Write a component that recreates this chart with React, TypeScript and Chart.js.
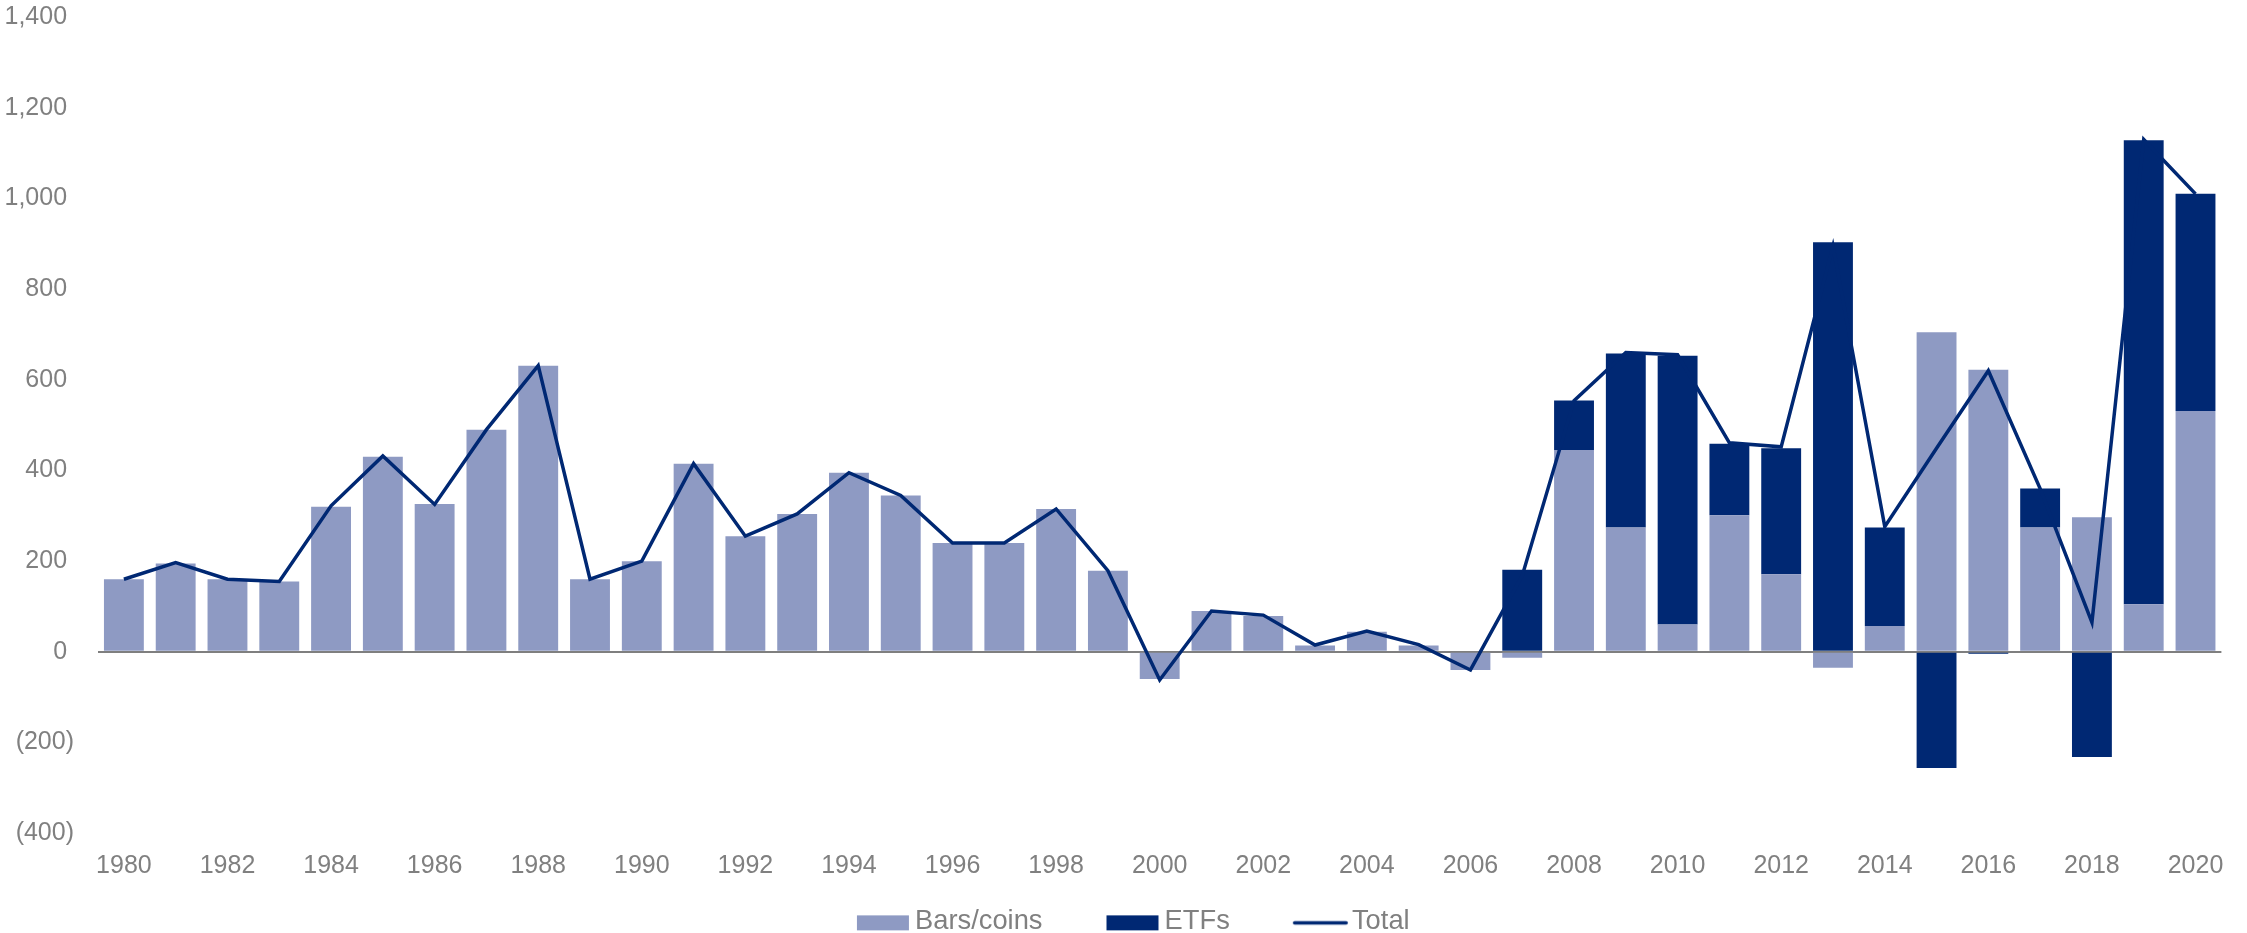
import React, { useEffect, useRef } from 'react';
import { Chart, registerables } from 'chart.js';

Chart.register(...registerables);

const YEARS: string[] = [
  '1980', '1981', '1982', '1983', '1984', '1985', '1986', '1987', '1988', '1989',
  '1990', '1991', '1992', '1993', '1994', '1995', '1996', '1997', '1998', '1999',
  '2000', '2001', '2002', '2003', '2004', '2005', '2006', '2007', '2008', '2009',
  '2010', '2011', '2012', '2013', '2014', '2015', '2016', '2017', '2018', '2019', '2020',
];

const BARS_COINS: number[] = [
  160, 195, 160, 155, 320, 430, 326, 490, 631, 160,
  200, 415, 255, 304, 395, 345, 240, 240, 315, 179,
  -60, 90, 79, 14, 44, 14, -40, -13, 445, 274,
  60, 301, 171, -35, 57, 705, 622, 274, 297, 105, 531,
];

const ETFS: (number | null)[] = [
  null, null, null, null, null, null, null, null, null, null,
  null, null, null, null, null, null, null, null, null, null,
  null, null, null, null, null, null, null, 181, 109, 384,
  593, 158, 278, 903, 217, -256, -4, 86, -232, 1023, 479,
];

const TOTAL: number[] = [
  160, 197, 160, 155, 322, 432, 325, 490, 631, 160,
  200, 415, 255, 304, 395, 345, 240, 240, 315, 179,
  -62, 90, 81, 15, 46, 16, -40, 168, 554, 660,
  655, 461, 452, 895, 276, 449, 620, 360, 65, 1130, 1010,
];

const Y_MIN = -400;
const Y_MAX = 1400;
const Y_STEP = 200;

const LIGHT = '#8E9AC3';
const NAVY = '#002873';
const GRAY = '#808080';
const FONT = "'Liberation Sans', Arial, sans-serif";

function fmtTick(v: number): string {
  const s = Math.abs(v).toLocaleString('en-US');
  return v < 0 ? `(${s})` : `${s} `;
}

// legend swatch images (transparent canvas with the swatch placed near the label)
function makeSwatch(kind: 'rect' | 'line', color: string): HTMLCanvasElement {
  const c = document.createElement('canvas');
  c.width = 180;
  c.height = 20;
  const ctx = c.getContext('2d')!;
  ctx.clearRect(0, 0, c.width, c.height);
  if (kind === 'rect') {
    ctx.fillStyle = color;
    ctx.fillRect(85, 4, 52, 15);
  } else {
    ctx.strokeStyle = color;
    ctx.lineWidth = 3.5;
    ctx.lineCap = 'round';
    ctx.beginPath();
    ctx.moveTo(85.75, 11.5);
    ctx.lineTo(137.25, 11.5);
    ctx.stroke();
  }
  return c;
}

export default function App() {
  const ref = useRef<HTMLCanvasElement | null>(null);

  useEffect(() => {
    if (!ref.current) return;
    Chart.defaults.font.family = FONT;
    const swLight = makeSwatch('rect', LIGHT);
    const swNavy = makeSwatch('rect', NAVY);
    const swLine = makeSwatch('line', NAVY);
    const chart = new Chart(ref.current, {
      type: 'bar',
      data: {
        labels: YEARS,
        datasets: [
          {
            type: 'line',
            label: 'Total',
            data: TOTAL,
            borderColor: NAVY,
            backgroundColor: NAVY,
            borderWidth: 3.5,
            pointRadius: 0,
            fill: false,
            tension: 0,
            order: 0,
            stack: 'total',
          } as any,
          {
            type: 'bar',
            label: 'Bars/coins',
            data: BARS_COINS,
            backgroundColor: LIGHT,
            borderWidth: 0,
            barPercentage: 0.77,
            categoryPercentage: 1,
            order: 1,
            stack: 'a',
          },
          {
            type: 'bar',
            label: 'ETFs',
            data: ETFS,
            backgroundColor: NAVY,
            borderWidth: 0,
            barPercentage: 0.77,
            categoryPercentage: 1,
            order: 2,
            stack: 'a',
          },
        ],
      },
      options: {
        animation: false,
        responsive: false,
        devicePixelRatio: 1,
        layout: { padding: { left: -8, right: 7, top: 0, bottom: -12 } },
        plugins: {
          tooltip: { enabled: false },
          legend: {
            position: 'bottom',
            labels: {
              usePointStyle: true,
              pointStyleWidth: 79,
              boxHeight: 15,
              padding: 29.5,
              color: GRAY,
              font: { size: 27.3, family: FONT },
              generateLabels: () => [
                { text: 'Bars/coins', fillStyle: LIGHT, strokeStyle: LIGHT, lineWidth: 0, pointStyle: swLight, datasetIndex: 1, hidden: false, fontColor: GRAY } as any,
                { text: 'ETFs', fillStyle: NAVY, strokeStyle: NAVY, lineWidth: 0, pointStyle: swNavy, datasetIndex: 2, hidden: false, fontColor: GRAY } as any,
                { text: 'Total', fillStyle: NAVY, strokeStyle: NAVY, lineWidth: 0, pointStyle: swLine, datasetIndex: 0, hidden: false, fontColor: GRAY } as any,
              ],
            },
          },
        },
        scales: {
          x: {
            stacked: true,
            grid: { display: false, drawTicks: false },
            border: { display: false },
            ticks: {
              autoSkip: false,
              maxRotation: 0,
              minRotation: 0,
              padding: 23.6,
              color: GRAY,
              font: { size: 25, family: FONT, lineHeight: 0.75 },
              callback: (_v: any, i: number) => (i % 2 === 0 ? YEARS[i] : ''),
            },
            afterFit: (s: any) => {
              s.height = 45;
            },
          },
          y: {
            stacked: true,
            min: Y_MIN,
            max: Y_MAX,
            z: 1,
            grid: {
              drawTicks: false,
              lineWidth: 2,
              color: (c: any) => (c.tick && c.tick.value === 0 ? '#7f7f7f' : 'rgba(0,0,0,0)'),
            },
            border: { display: false },
            ticks: {
              stepSize: Y_STEP,
              padding: 24,
              color: GRAY,
              font: { size: 25, family: FONT, lineHeight: 1.1 },
              callback: (v: any) => fmtTick(Number(v)),
            },
            afterFit: (s: any) => {
              s.width = 106;
              s.paddingTop = 17;
              s.paddingBottom = 0;
            },
          },
        },
      },
    });
    return () => chart.destroy();
  }, []);

  return (
    <div style={{ position: 'absolute', left: 0, top: 0, width: 2247, height: 933, background: '#fff' }}>
      <canvas ref={ref} width={2247} height={933} style={{ width: 2247, height: 933, display: 'block' }} />
    </div>
  );
}
